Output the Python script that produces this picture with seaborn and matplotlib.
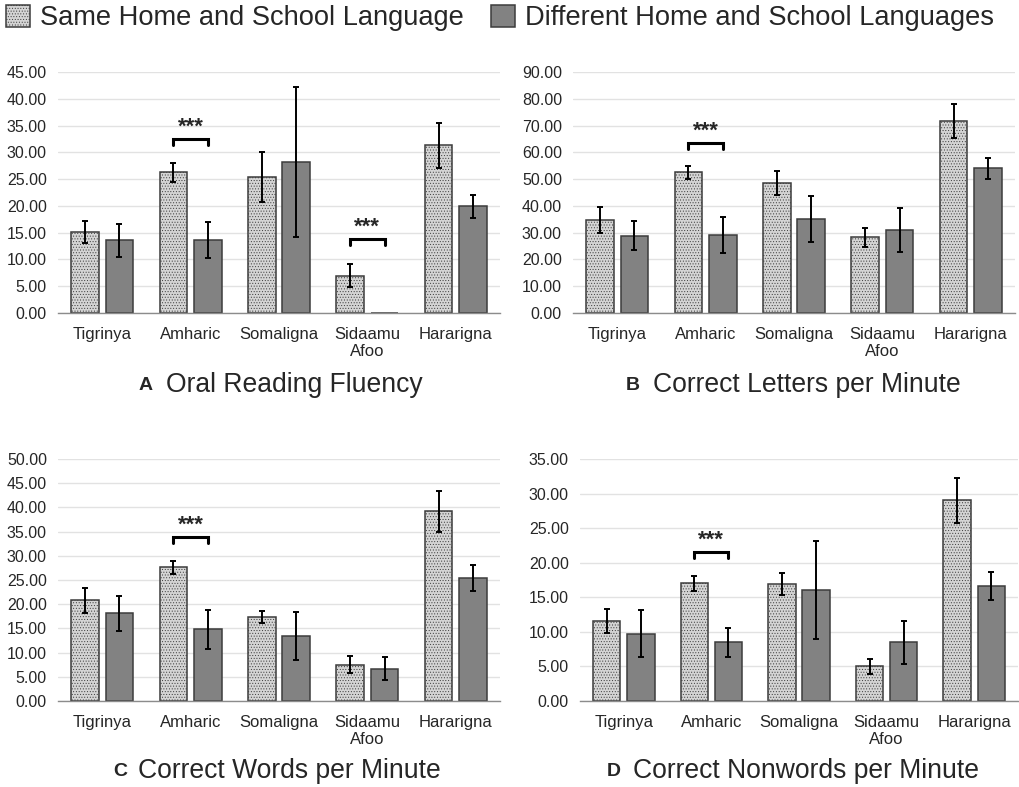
import matplotlib
matplotlib.use("Agg")
import matplotlib.pyplot as plt
from matplotlib.patches import Patch
from matplotlib.ticker import FormatStrFormatter
import seaborn as sns
import pandas as pd
import numpy as np

languages = ["Tigrinya", "Amharic", "Somaligna", "Sidaamu\nAfoo", "Hararigna"]
groups = ["Same Home and School Language", "Different Home and School Languages"]

# Oral Reading Fluency
orf_same = [15.1, 26.3, 25.4, 7.0, 31.3]
orf_diff = [13.6, 13.6, 28.2, 0.0, 19.9]
orf_same_err = [2.0, 1.8, 4.7, 2.2, 4.2]
orf_diff_err = [3.1, 3.4, 14.0, 0.0, 2.2]
orf_sig = [(1, 32.5), (3, 13.9)]

# Correct Letters per Minute
clpm_same = [34.7, 52.6, 48.6, 28.3, 71.6]
clpm_diff = [28.9, 29.1, 35.2, 31.0, 54.0]
clpm_same_err = [5.0, 2.4, 4.4, 3.5, 6.4]
clpm_diff_err = [5.3, 6.6, 8.6, 8.2, 4.0]
clpm_sig = [(1, 63.5)]

# Correct Words per Minute
cwpm_same = [20.8, 27.6, 17.4, 7.5, 39.2]
cwpm_diff = [18.1, 14.8, 13.4, 6.7, 25.4]
cwpm_same_err = [2.6, 1.4, 1.2, 1.7, 4.2]
cwpm_diff_err = [3.6, 4.0, 5.0, 2.4, 2.6]
cwpm_sig = [(1, 33.8)]

# Correct Nonwords per Minute
cnwpm_same = [11.6, 17.0, 16.9, 5.0, 29.0]
cnwpm_diff = [9.7, 8.5, 16.0, 8.5, 16.6]
cnwpm_same_err = [1.7, 1.1, 1.6, 1.1, 3.3]
cnwpm_diff_err = [3.4, 2.1, 7.1, 3.1, 2.0]
cnwpm_sig = [(1, 21.5)]

sns.set_theme(style="white")
plt.rcParams["font.family"] = ["Liberation Sans", "DejaVu Sans"]
plt.rcParams["hatch.linewidth"] = 0.4

LIGHT = "#d4d4d4"
DARK = "#828282"
EDGE = "#3c3c3c"
HATCH = "#8a8a8a"
TEXT = "#262626"

W, H = 1019, 787
fig = plt.figure(figsize=(W / 100, H / 100), dpi=100)


def px_axes(x0, y_top, x1, y_bottom):
    return fig.add_axes([x0 / W, 1 - y_bottom / H, (x1 - x0) / W, (y_bottom - y_top) / H])


def dot_texture(patch):
    patch.set_hatch("......")
    if hasattr(patch, "set_hatchcolor"):
        patch.set_hatchcolor(HATCH)


def panel(ax, same, diff, same_err, diff_err, ymax, step, sig):
    df = pd.DataFrame({
        "language": languages * 2,
        "group": [groups[0]] * len(languages) + [groups[1]] * len(languages),
        "score": list(same) + list(diff),
    })
    sns.barplot(data=df, x="language", y="score", hue="group", order=languages,
                hue_order=groups, palette=[LIGHT, DARK], width=0.78, gap=0.2,
                errorbar=None, edgecolor=EDGE, linewidth=1.1, legend=False, ax=ax)
    centers = []
    for k, (cont, errs) in enumerate(zip(ax.containers, [same_err, diff_err])):
        xs = [b.get_x() + b.get_width() / 2 for b in cont]
        ys = [b.get_height() for b in cont]
        centers.append(xs)
        if k == 0:
            for b in cont:
                dot_texture(b)
        ax.errorbar(xs, ys, yerr=[e if e > 0 else np.nan for e in errs], fmt="none",
                    ecolor="black", elinewidth=1.4, capsize=2.2, capthick=1.4, zorder=5)
    for idx, yb in sig:
        x0, x1 = centers[0][idx], centers[1][idx]
        tick = ymax * 0.025
        ax.plot([x0, x0, x1, x1], [yb - tick, yb, yb, yb - tick], color="black",
                lw=2.2, solid_joinstyle="miter", zorder=6)
        ax.text((x0 + x1) / 2, yb + ymax * 0.005, "***", ha="center", va="bottom",
                fontsize=16, fontweight="bold", color=TEXT)
    ax.set_ylim(0, ymax)
    ax.set_yticks(np.arange(0, ymax + step / 2, step))
    ax.yaxis.set_major_formatter(FormatStrFormatter("%.2f"))
    ax.set_xlim(-0.5, len(languages) - 0.5)
    ax.grid(axis="y", color="#e2e2e2", lw=1.0)
    ax.set_axisbelow(True)
    ax.set_xlabel("")
    ax.set_ylabel("")
    for s in ["left", "right", "top"]:
        ax.spines[s].set_visible(False)
    ax.spines["bottom"].set_color("#8c8c8c")
    ax.spines["bottom"].set_linewidth(1.0)
    ax.tick_params(axis="x", length=0, labelsize=12, labelcolor=TEXT, pad=10)
    ax.tick_params(axis="y", length=0, labelsize=11.5, labelcolor=TEXT, pad=8)


axA = px_axes(58, 72, 500, 313)
panel(axA, orf_same, orf_diff, orf_same_err, orf_diff_err, 45, 5, orf_sig)
axB = px_axes(573, 72, 1015, 313)
panel(axB, clpm_same, clpm_diff, clpm_same_err, clpm_diff_err, 90, 10, clpm_sig)
axC = px_axes(58, 459, 500, 701)
panel(axC, cwpm_same, cwpm_diff, cwpm_same_err, cwpm_diff_err, 50, 5, cwpm_sig)
axD = px_axes(580, 459, 1018, 701)
panel(axD, cnwpm_same, cnwpm_diff, cnwpm_same_err, cnwpm_diff_err, 35, 5, cnwpm_sig)

titles = [("A", "Oral Reading Fluency", 146, 166, 385),
          ("B", "Correct Letters per Minute", 633, 653, 385),
          ("C", "Correct Words per Minute", 120, 138, 771),
          ("D", "Correct Nonwords per Minute", 614, 633, 771)]
for letter, text, lx, tx, ty in titles:
    fig.text(lx / W, 1 - ty / H, letter, ha="center", va="center", fontsize=14,
             fontweight="bold", color=TEXT)
    fig.text(tx / W, 1 - ty / H, text, ha="left", va="center", fontsize=19.1, color=TEXT)

legend_light = Patch(facecolor=LIGHT, edgecolor=EDGE, linewidth=1.1)
dot_texture(legend_light)
handles = [legend_light, Patch(facecolor=DARK, edgecolor=EDGE, linewidth=1.1)]
fig.legend(handles, groups, loc="center", bbox_to_anchor=(500 / W, 1 - 18 / H), ncol=2,
           frameon=False, fontsize=19.6, handlelength=0.9, handleheight=0.9,
           handletextpad=0.35, columnspacing=1.0, labelcolor=TEXT)

fig.savefig("out.png", dpi=100, facecolor="white")
